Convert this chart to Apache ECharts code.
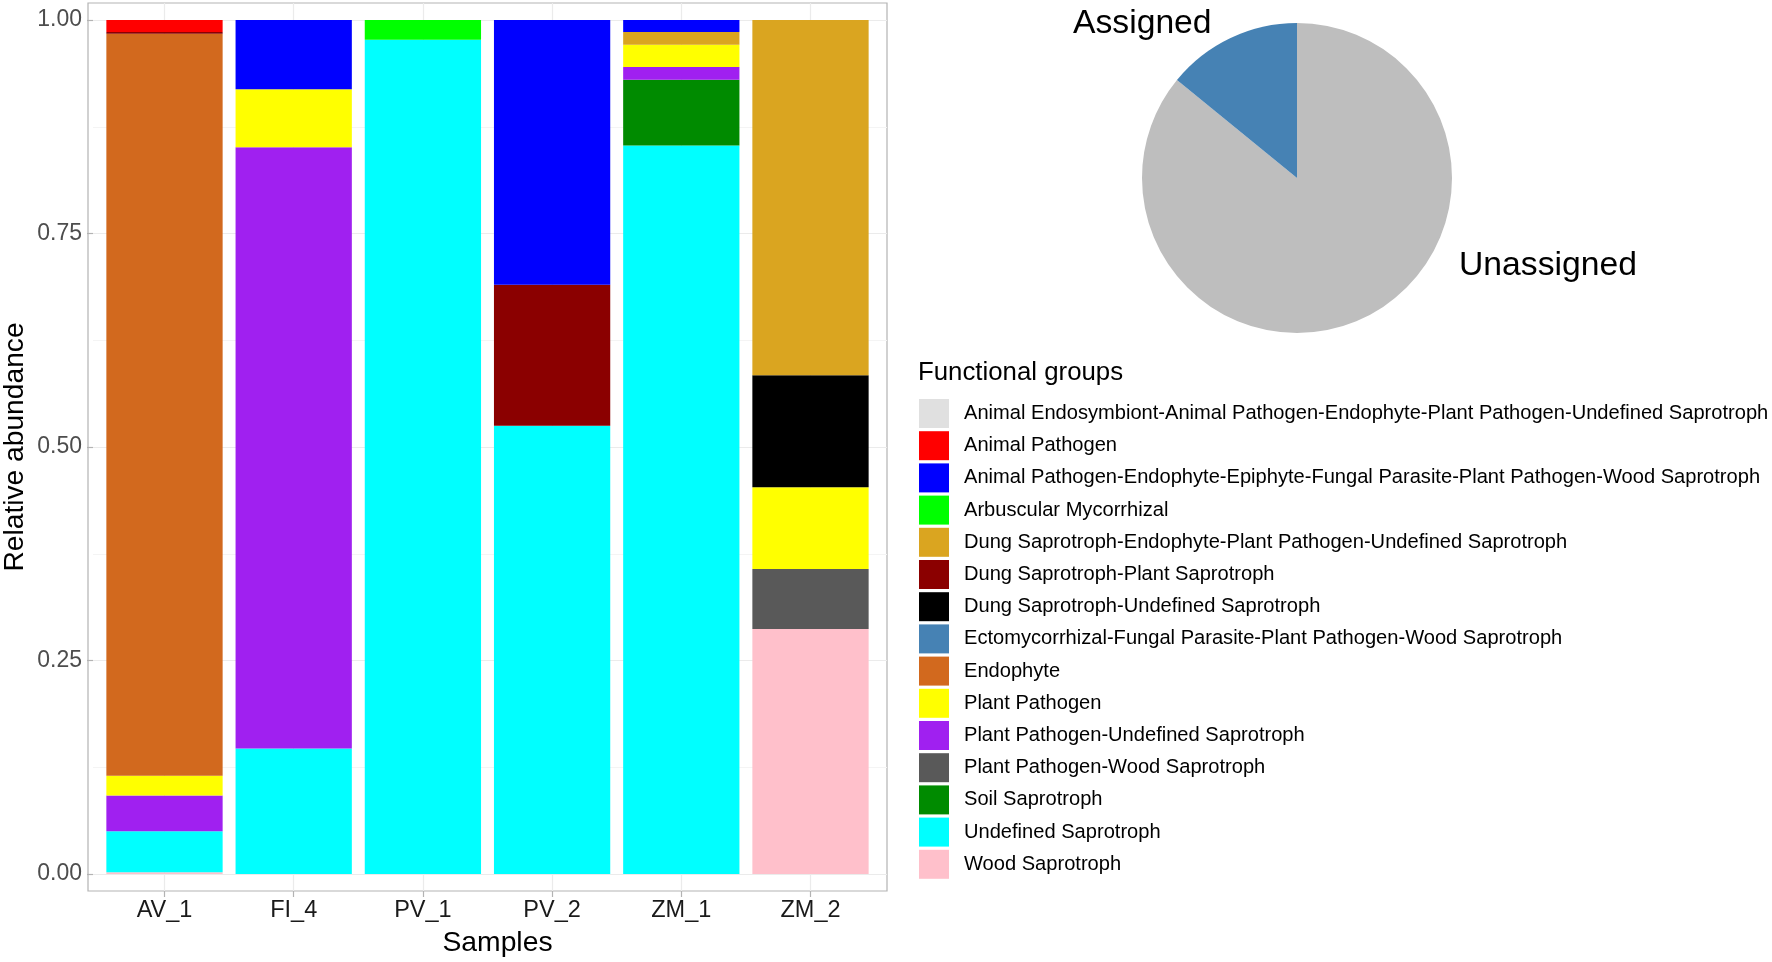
<!DOCTYPE html>
<html>
<head>
<meta charset="utf-8">
<title>Functional groups</title>
<script src="https://cdn.jsdelivr.net/npm/echarts@6/dist/echarts.min.js"></script>
<style>
    html, body { margin: 0; padding: 0; background: #fff; }
    #chart { width: 1772px; height: 962px; }
</style>
</head>
<body>
<div id="chart"></div>
<script type="text/javascript">

    // samples on the x axis
    var samples = ['AV_1', 'FI_4', 'PV_1', 'PV_2', 'ZM_1', 'ZM_2'];

    // functional groups, legend order (top of stack first)
    var groups = [
        'Animal Endosymbiont-Animal Pathogen-Endophyte-Plant Pathogen-Undefined Saprotroph',
        'Animal Pathogen',
        'Animal Pathogen-Endophyte-Epiphyte-Fungal Parasite-Plant Pathogen-Wood Saprotroph',
        'Arbuscular Mycorrhizal',
        'Dung Saprotroph-Endophyte-Plant Pathogen-Undefined Saprotroph',
        'Dung Saprotroph-Plant Saprotroph',
        'Dung Saprotroph-Undefined Saprotroph',
        'Ectomycorrhizal-Fungal Parasite-Plant Pathogen-Wood Saprotroph',
        'Endophyte',
        'Plant Pathogen',
        'Plant Pathogen-Undefined Saprotroph',
        'Plant Pathogen-Wood Saprotroph',
        'Soil Saprotroph',
        'Undefined Saprotroph',
        'Wood Saprotroph'
    ];
    var groupColors = ['#e0e0e0', '#ff0000', '#0000ff', '#00ff00', '#daa520', '#8b0000', '#000000',
        '#4682b4', '#d2691e', '#ffff00', '#a020f0', '#595959', '#008b00', '#00ffff', '#ffc0cb'];

    // relative abundance per sample, same order as groups
    var av1 = [0, 0.014, 0, 0, 0, 0.002, 0, 0, 0.869, 0.023, 0.042, 0, 0, 0.048, 0.002];
    var fi4 = [0, 0, 0.081, 0, 0, 0, 0, 0, 0, 0.068, 0.704, 0, 0, 0.147, 0];
    var pv1 = [0, 0, 0, 0.023, 0, 0, 0, 0, 0, 0, 0, 0, 0, 0.977, 0];
    var pv2 = [0, 0, 0.310, 0, 0, 0.165, 0, 0, 0, 0, 0, 0, 0, 0.525, 0];
    var zm1 = [0, 0, 0.014, 0, 0.015, 0, 0, 0, 0, 0.026, 0.015, 0, 0.077, 0.853, 0];
    var zm2 = [0, 0, 0, 0, 0.416, 0, 0.131, 0, 0, 0.096, 0, 0.070, 0, 0, 0.287];
    var sampleValues = [av1, fi4, pv1, pv2, zm1, zm2];

    // pie: share of assigned reads
    var pieNames = ['Unassigned', 'Assigned'];
    var pieValues = [0.859, 0.141];
    var pieColors = ['#bebebe', '#4682b4'];

    var yTicks = [0, 0.25, 0.5, 0.75, 1];

    var font = '"Liberation Sans", Arial, Helvetica, sans-serif';

    // bars stacked bottom-up, so last group goes first
    var series = [];
    for (var g = groups.length - 1; g >= 0; g--) {
        var vals = [];
        for (var s = 0; s < samples.length; s++) {
            vals.push(sampleValues[s][g]);
        }
        series.push({
            name: groups[g],
            type: 'bar',
            stack: 'total',
            xAxisIndex: 0,
            yAxisIndex: 0,
            barWidth: '90%',
            itemStyle: { color: groupColors[g] },
            data: vals,
            z: 5
        });
    }

    var pieData = [];
    for (var i = 0; i < pieNames.length; i++) {
        pieData.push({ name: pieNames[i], value: pieValues[i], itemStyle: { color: pieColors[i] } });
    }
    series.push({
        type: 'pie',
        center: [1297, 178],
        radius: 155,
        startAngle: 90,
        clockwise: true,
        silent: true,
        label: { show: false },
        labelLine: { show: false },
        itemStyle: { borderWidth: 0 },
        data: pieData
    });

    var chart = echarts.init(document.getElementById('chart'), null, { renderer: 'canvas' });
    chart.setOption({
        backgroundColor: '#ffffff',
        animation: false,
        textStyle: { fontFamily: font },
        title: {
            text: 'Functional groups',
            left: 918,
            top: 360,
            padding: 0,
            textStyle: { fontFamily: font, fontSize: 25.8, fontWeight: 'normal', color: '#000' }
        },
        legend: {
            data: groups,
            orient: 'vertical',
            left: 919,
            top: 399,
            padding: 0,
            icon: 'rect',
            itemWidth: 30,
            itemHeight: 29,
            itemGap: 3.2,
            selectedMode: false,
            textStyle: { fontFamily: font, fontSize: 20.1, color: '#000', lineHeight: 29, padding: [0, 0, 0, 10] }
        },
        graphic: [
            { type: 'text', left: 1073, top: 7, style: { text: pieNames[1], font: '33.7px ' + font, fill: '#000' } },
            { type: 'text', left: 1459, top: 249, style: { text: pieNames[0], font: '33.7px ' + font, fill: '#000' } }
        ],
        grid: [
            // bars
            { left: 99.9, top: 20, width: 775.2, height: 854 },
            // horizontal grid lines + y labels
            { left: 88, top: 20, width: 799, height: 854 },
            // vertical grid lines + x labels
            { left: 164.5, top: 3, width: 646, height: 888 },
            // panel frame
            { left: 88, top: 3, width: 799, height: 888, show: true, borderColor: '#b3b3b3', borderWidth: 1.2, backgroundColor: 'transparent' }
        ],
        xAxis: [
            { gridIndex: 0, type: 'category', data: samples, show: false },
            { gridIndex: 1, type: 'value', min: 0, max: 1, show: false },
            {
                gridIndex: 2, type: 'category', data: samples, boundaryGap: false,
                axisLine: { show: false },
                axisTick: { show: true, length: 6, lineStyle: { color: '#b3b3b3', width: 1.2 } },
                axisLabel: { margin: 8, fontSize: 23.5, color: '#1a1a1a', fontFamily: font },
                splitLine: { show: true, lineStyle: { color: '#ebebeb', width: 1.2 } },
                name: 'Samples',
                nameLocation: 'middle',
                nameGap: 38,
                nameTextStyle: { fontSize: 28.3, color: '#000', fontFamily: font, padding: [0, 0, 0, 20] }
            },
            { gridIndex: 3, type: 'value', min: 0, max: 1, show: false }
        ],
        yAxis: [
            { gridIndex: 0, type: 'value', min: 0, max: 1, show: false },
            {
                gridIndex: 1, type: 'value', min: yTicks[0], max: yTicks[yTicks.length - 1], interval: 0.25,
                axisLine: { show: false },
                axisTick: { show: true, length: 6, lineStyle: { color: '#b3b3b3', width: 1.2 } },
                axisLabel: {
                    margin: 11, fontSize: 23, color: '#4d4d4d', fontFamily: font,
                    formatter: function (v) { return v.toFixed(2); }
                },
                splitLine: { show: true, lineStyle: { color: '#ebebeb', width: 1.2 } },
                minorTick: { show: false, splitNumber: 2 },
                minorSplitLine: { show: true, lineStyle: { color: '#f4f4f4', width: 1 } },
                name: 'Relative abundance',
                nameLocation: 'middle',
                nameRotate: 90,
                nameGap: 64,
                nameTextStyle: { fontSize: 28.2, color: '#000', fontFamily: font }
            },
            { gridIndex: 2, type: 'value', min: 0, max: 1, show: false },
            { gridIndex: 3, type: 'value', min: 0, max: 1, show: false }
        ],
        series: series
    });
</script>
</body>
</html>
